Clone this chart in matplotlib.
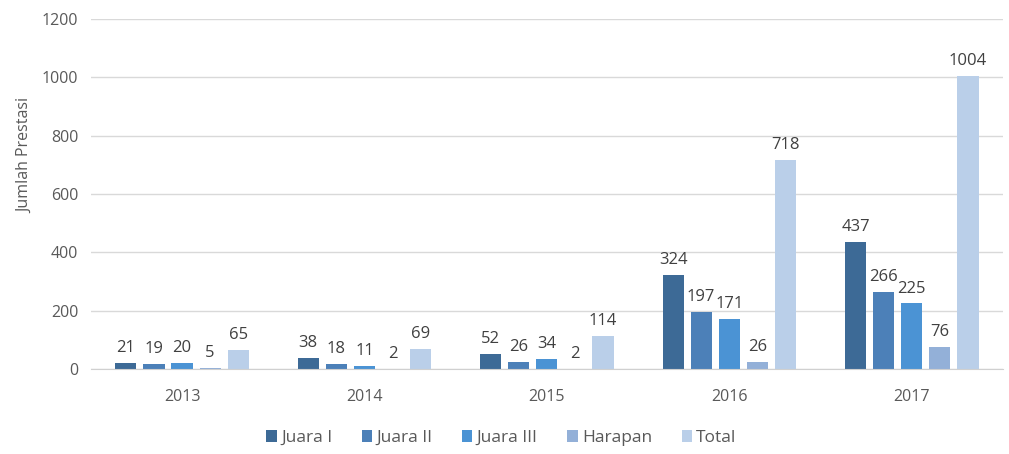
import matplotlib
matplotlib.use("Agg")
import matplotlib.pyplot as plt
import numpy as np

plt.rcParams['font.family'] = ['Open Sans', 'DejaVu Sans']

years = ["2013", "2014", "2015", "2016", "2017"]
series_names = ["Juara I", "Juara II", "Juara III", "Harapan", "Total"]
juara1 = [21, 38, 52, 324, 437]
juara2 = [19, 18, 26, 197, 266]
juara3 = [20, 11, 34, 171, 225]
harapan = [5, 2, 2, 26, 76]
total = [65, 69, 114, 718, 1004]
colors = ["#3d6a96", "#4c80b8", "#4b93d4", "#93b0d8", "#bacfe9"]

values = [juara1, juara2, juara3, harapan, total]

fig = plt.figure(figsize=(10.09, 4.54), dpi=100)
ax = fig.add_axes([0.090, 0.187, 0.904, 0.771])

x = np.arange(len(years))
pitch = 0.154
width = 0.116
text_color = "#595959"
for i, (name, vals, c) in enumerate(zip(series_names, values, colors)):
    pos = x + (i - 2) * pitch
    ax.bar(pos, vals, width=width, color=c, label=name, zorder=3)
    for px, v in zip(pos, vals):
        ax.annotate(str(v), (px, v), xytext=(0, 5), textcoords="offset points",
                    ha="center", va="bottom", fontsize=12, color="#404040")

ax.set_xlim(-0.5, 4.5)
ax.set_ylim(0, 1200)
ax.set_yticks(range(0, 1201, 200))
ax.set_xticks(x)
ax.set_xticklabels(years)
ax.tick_params(axis='both', length=0, colors=text_color, labelsize=11.5)
ax.tick_params(axis='x', pad=14)
ax.tick_params(axis='y', pad=9)
ax.grid(axis='y', color="#d9d9d9", linewidth=1, zorder=0)
for s in ["top", "right", "left"]:
    ax.spines[s].set_visible(False)
ax.spines["bottom"].set_color("#d0d0d0")
ax.spines["bottom"].set_zorder(4)

fig.text(25 / 1009, 1 - 155 / 454, "Jumlah Prestasi", rotation=90,
         ha="center", va="center", fontsize=11.5, color=text_color)

handles, labels = ax.get_legend_handles_labels()
fig.legend(handles, labels, loc="center", bbox_to_anchor=(0.497, 0.035),
           ncol=5, frameon=False, fontsize=12.5, handlelength=0.6,
           handleheight=0.6, handletextpad=0.25, columnspacing=1.7,
           labelcolor=text_color)

fig.savefig("out.png", dpi=100)
